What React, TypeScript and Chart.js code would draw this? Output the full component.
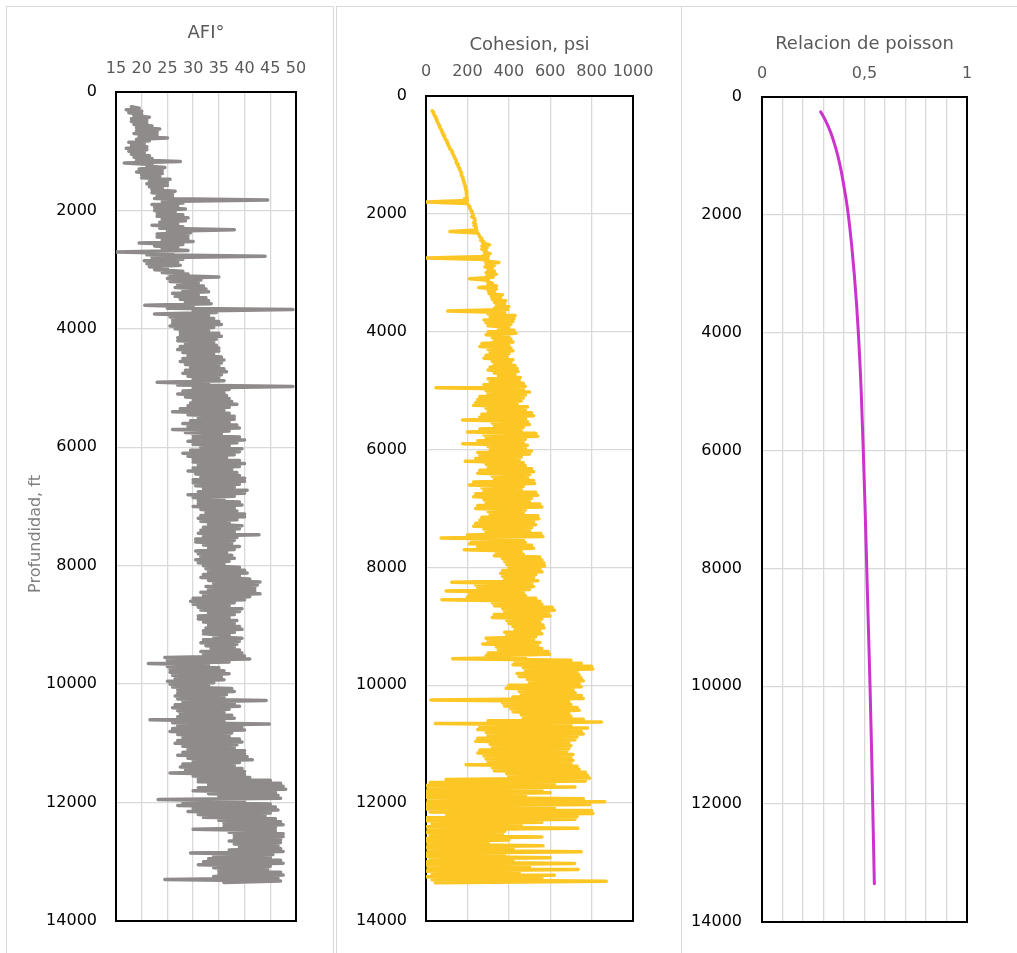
import React, { useEffect, useRef } from "react";
import { Chart, registerables } from "chart.js";

Chart.register(...registerables);

// ---------- data (depth in ft, one reading every 25 ft from 250 ft) ----------
const LOG_DEPTH_START = 250;
const LOG_DEPTH_STEP = 25;

// Friction angle AFI, degrees
const AFI = [
  18, 19.5, 17, 20, 17.5, 20, 18.5, 21.5, 18, 21, 18, 21, 18.5, 22, 19, 23.5, 19, 23, 18.5, 23, 19.5, 25, 19, 21.5, 17.5, 20.5, 18, 21, 17, 21, 17.5, 20.5, 18, 21.5, 18.5, 22, 19, 27.5, 16.6, 22,
  21, 24.5, 19.5, 24, 19, 24, 20, 23.5, 20, 25.5, 21.5, 25, 21, 25, 21.5, 24, 22, 26.5, 22, 26, 23, 26, 22.5, 44.5, 24, 28, 22, 27, 22.5, 28.5, 22.5, 26.5, 23, 28, 23, 29, 24, 28.5, 23.5, 27,
  22, 28, 23.5, 38, 25, 29.5, 23, 29, 23, 29, 24, 30, 19.5, 28, 22.5, 27, 24, 29, 15.2, 26, 21, 44, 22, 28, 20.5, 27, 21, 27.5, 21.5, 25, 22.5, 28, 24, 29, 25.5, 35, 25, 31.5, 25.5, 31,
  27, 32, 26.5, 32.5, 28, 33, 26, 31, 26.5, 32.5, 27.5, 33, 28.5, 33.5, 20.6, 30, 25, 49.4, 30, 34.5, 22.5, 33, 25.5, 34, 26, 35, 26, 35.5, 25.5, 34, 26.5, 33, 27.5, 35, 27.5, 35.5, 27, 34.5, 27, 34,
  28.5, 34.5, 27.5, 35, 27, 35, 28, 34, 29, 35.5, 28, 36, 27.5, 35.5, 28.5, 35, 29.5, 36, 28.5, 36.5, 28, 35.5, 29, 35, 30, 36, 23, 33, 27, 49.4, 30, 37, 28, 36, 27, 36.5, 28.5, 37, 30, 37.5,
  29.5, 38.5, 29, 37, 27.5, 36, 26, 37, 29, 38, 31, 38, 29.5, 37, 28, 38.5, 29, 39, 26, 37, 28.5, 35.5, 30, 39, 30, 40, 29, 38.5, 30, 37, 31.5, 39.5, 29.5, 39, 28, 38, 29, 36.5, 30, 39,
  30, 40, 31, 39, 30, 37.5, 29, 38.5, 30.5, 39, 31.5, 40, 30, 40, 30, 39, 30.5, 38, 32, 40.5, 31, 40, 29, 38, 30, 36, 31, 39, 31, 39.5, 30, 38, 31.5, 38.5, 32.5, 40, 31.5, 40, 31, 38.5,
  31.5, 37, 33, 39.5, 32, 39, 31.5, 38, 31, 42.8, 32, 38.5, 30.5, 38, 30.5, 37.5, 32, 39, 33, 38, 30.5, 36.5, 31, 37.5, 31.5, 38, 30.5, 37, 31, 36, 32, 39, 32.5, 40, 33, 40.5, 32, 39, 31.5, 41,
  33, 43, 34, 42.5, 32.5, 42, 33, 42, 31.5, 43, 32, 41, 30, 40, 29.5, 38, 30, 37, 31, 39.5, 31.5, 39, 33, 38, 31, 37, 31, 38.5, 32, 38, 33, 39, 32.5, 39.5, 32, 38, 32, 37, 34, 39.5,
  32, 39, 31.5, 38.5, 32.5, 38, 33.5, 39, 31.5, 39.5, 32, 40, 24.5, 41, 25, 37, 21.3, 33, 25, 35, 25.5, 36, 25.5, 37, 26, 35.5, 26.5, 36, 25, 34, 25.5, 33, 26, 37.5, 27, 38, 27, 36.5, 26.5, 36,
  27, 44.2, 28, 38, 26.5, 39, 26, 37, 27, 36, 27.5, 37.5, 27, 38, 21.6, 36, 26, 44.8, 27, 39.5, 26, 40, 25.5, 37.5, 27, 37, 28, 39, 27, 39.5, 26.5, 38.5, 28, 38, 29, 40, 28, 40, 27, 40.5,
  29, 41.5, 30, 39, 28, 38, 27.5, 39.5, 28.5, 40, 25.5, 40, 30, 41, 31, 45, 31, 47, 33, 47.5, 31, 48, 30, 46, 33, 46.5, 35, 47, 23.2, 40, 28, 45, 27, 46, 30, 46.5, 29, 45, 31, 44,
  32, 46, 35, 47, 36, 47.5, 36, 46, 30, 46, 37, 47.5, 38, 47.5, 38, 47, 37, 47, 38, 46.5, 39, 47, 37, 47.5, 29.5, 45.5, 34, 45, 33, 47, 32, 47.5, 31, 45, 34, 44.5, 35, 47, 35, 47.5,
  34, 46.5, 24.5, 47, 36,
];

// Cohesion, psi
const COHESION = [
  30, 34, 37, 40, 44, 48, 50, 53, 57, 61, 63, 66, 70, 74, 76, 79, 82, 87, 90, 92, 97, 101, 103, 106, 110, 114, 116, 124, 126, 128, 132, 136, 138, 143, 145, 146, 150, 154, 156, 160,
  163, 167, 170, 171, 172, 176, 178, 180, 182, 184, 186, 189, 190, 192, 194, 195, 196, 197, 198, 199, 185, 200, 0, 200, 205, 208, 212, 215, 218, 222, 226, 228, 220, 232, 235, 237, 230, 240, 232, 243,
  240, 245, 116, 250, 255, 258, 262, 270, 265, 280, 275, 306, 270, 295, 270, 290, 282, 310, 280, 300, 0, 300, 285, 352, 290, 330, 285, 320, 300, 330, 290, 339, 295, 325, 210, 300, 295, 320, 300, 340,
  255, 340, 300, 330, 305, 370, 315, 360, 320, 385, 330, 380, 340, 400, 330, 395, 105, 380, 300, 430, 310, 425, 280, 420, 290, 410, 300, 400, 350, 425, 300, 435, 290, 400, 320, 410, 330, 420, 270, 400,
  260, 410, 300, 420, 310, 400, 290, 390, 280, 420, 320, 410, 330, 430, 310, 440, 300, 445, 330, 430, 350, 455, 300, 450, 310, 470, 280, 480, 48, 470, 290, 500, 300, 480, 260, 470, 250, 460, 240, 440,
  230, 490, 290, 480, 300, 510, 270, 520, 260, 480, 177, 490, 320, 500, 330, 470, 260, 460, 200, 530, 280, 540, 290, 480, 250, 470, 177, 490, 300, 480, 310, 510, 250, 500, 260, 460, 240, 450, 190, 470,
  290, 480, 300, 510, 260, 520, 250, 500, 320, 490, 330, 520, 230, 525, 210, 470, 270, 460, 280, 530, 240, 540, 230, 510, 280, 500, 290, 550, 250, 560, 240, 480, 300, 470, 310, 540, 270, 545, 260, 520,
  240, 530, 230, 510, 280, 500, 290, 555, 200, 565, 73, 470, 220, 480, 210, 510, 250, 520, 185, 460, 340, 470, 330, 550, 370, 560, 380, 570, 390, 573, 400, 550, 370, 560, 360, 530, 370, 520, 380, 540,
  124, 510, 240, 520, 250, 500, 97, 470, 210, 480, 200, 530, 77, 550, 320, 560, 330, 610, 370, 620, 380, 590, 330, 600, 320, 560, 390, 550, 400, 565, 420, 570, 430, 550, 380, 560, 390, 530, 290, 520,
  300, 550, 274, 540, 340, 560, 350, 590, 300, 597, 290, 480, 129, 700, 430, 750, 420, 800, 470, 806, 480, 730, 440, 740, 450, 750, 490, 760, 500, 740, 400, 750, 387, 710, 450, 720, 460, 750, 420, 760,
  24, 690, 370, 700, 380, 730, 410, 740, 420, 690, 460, 700, 470, 760, 300, 847, 45, 700, 260, 780, 250, 750, 290, 760, 300, 730, 250, 720, 240, 690, 310, 700, 320, 690, 260, 680, 250, 710, 280, 700,
  290, 710, 300, 700, 194, 730, 320, 740, 330, 770, 390, 780, 400, 790, 97, 770, 20, 620, 0, 720, 10, 560, 0, 600, 0, 480, 0, 760, 10, 863, 0, 790, 0, 620, 0, 800, 20, 806, 100, 730,
  0, 720, 0, 560, 30, 460, 0, 734, 10, 380, 0, 370, 20, 560, 0, 400, 0, 300, 10, 565, 0, 420, 10, 750, 0, 380, 0, 600, 20, 420, 0, 718, 0, 500, 10, 735, 0, 450, 30, 620,
  0, 560, 30, 871, 45,
];

// Poisson ratio (smooth curve)
const POISSON_DEPTHS = [250, 400, 600, 800, 1000, 1250, 1500, 1750, 2000, 2500, 3000, 3500, 4000, 5000, 6000, 7000, 8000, 9000, 10000, 11000, 12000, 13350];
const POISSON = [0.286, 0.31, 0.335, 0.354, 0.37, 0.386, 0.399, 0.411, 0.421, 0.437, 0.45, 0.461, 0.47, 0.484, 0.494, 0.503, 0.511, 0.519, 0.527, 0.534, 0.54, 0.548];

const DEPTH_TICKS = [0, 2000, 4000, 6000, 8000, 10000, 12000, 14000];
const AFI_TICKS = [15, 20, 25, 30, 35, 40, 45, 50];
const COHESION_TICKS = [0, 200, 400, 600, 800, 1000];
const POISSON_LABELED = [0, 0.5, 1];
const POISSON_GRID_STEP = 0.1;

const TITLES = ["AFI°", "Cohesion, psi", "Relacion de poisson"];
const Y_TITLE = "Profundidad, ft";

// ---------- styling / layout ----------
const FONT = "'DejaVu Sans', 'Liberation Sans', sans-serif";
const GRID = "#d9d9d9";

type Panel = {
  values: number[];
  depths: number[];
  color: string;
  width: number;
  smooth: boolean;
  title: string;
  xMin: number;
  xMax: number;
  xStep: number;
  xLabel: (v: number) => string;
  box: { left: number; width: number };
  canvas: { x: number; y: number; w: number; h: number };
  plot: { l: number; t: number; r: number; b: number };
  titleCenter: number;
  tickCenter: number;
  yTickRight: number;
  yTitle?: { x: number; y: number };
};

const logDepths = (arr: number[]) => arr.map((_, i) => LOG_DEPTH_START + i * LOG_DEPTH_STEP);
const near = (a: number, b: number) => Math.abs(a - b) < 1e-6;

const PANELS: Panel[] = [
  {
    values: AFI,
    depths: logDepths(AFI),
    color: "#8f8b8b",
    width: 3.5,
    smooth: false,
    title: TITLES[0],
    xMin: AFI_TICKS[0],
    xMax: AFI_TICKS[AFI_TICKS.length - 1],
    xStep: AFI_TICKS[1] - AFI_TICKS[0],
    xLabel: (v) => String(v),
    box: { left: 6, width: 328 },
    canvas: { x: 7, y: 7, w: 326, h: 945 },
    plot: { l: 116, t: 92, r: 296, b: 921 },
    titleCenter: 33.8,
    tickCenter: 68.7,
    yTickRight: 97,
    yTitle: { x: 35.5, y: 534 },
  },
  {
    values: COHESION,
    depths: logDepths(COHESION),
    color: "#fcc624",
    width: 3.5,
    smooth: false,
    title: TITLES[1],
    xMin: COHESION_TICKS[0],
    xMax: COHESION_TICKS[COHESION_TICKS.length - 1],
    xStep: COHESION_TICKS[1] - COHESION_TICKS[0],
    xLabel: (v) => String(v),
    box: { left: 336, width: 346 },
    canvas: { x: 337, y: 7, w: 344, h: 945 },
    plot: { l: 426, t: 96, r: 633, b: 921 },
    titleCenter: 45.5,
    tickCenter: 71.8,
    yTickRight: 407,
  },
  {
    values: POISSON,
    depths: POISSON_DEPTHS,
    color: "#cc33cc",
    width: 3,
    smooth: true,
    title: TITLES[2],
    xMin: POISSON_LABELED[0],
    xMax: POISSON_LABELED[POISSON_LABELED.length - 1],
    xStep: POISSON_GRID_STEP,
    xLabel: (v) => {
      const hit = POISSON_LABELED.find((p) => near(p, v));
      return hit === undefined ? "" : String(hit).replace(".", ",");
    },
    box: { left: 681, width: 400 },
    canvas: { x: 682, y: 7, w: 335, h: 945 },
    plot: { l: 762, t: 97, r: 967, b: 922 },
    titleCenter: 44.7,
    tickCenter: 73.8,
    yTickRight: 742,
  },
];

function LogChart({ p }: { p: Panel }) {
  const ref = useRef<HTMLCanvasElement | null>(null);

  useEffect(() => {
    if (!ref.current) return;
    const c = p.canvas;
    const plotL = p.plot.l - c.x;
    const plotT = p.plot.t - c.y;
    const plotR = p.plot.r - c.x;
    const plotB = p.plot.b - c.y;
    const tickLH = 16 * 1.2;
    const titleLH = 18 * 1.2;

    const frame = {
      id: "frame",
      beforeDatasetsDraw(chart: any) {
        const { ctx, chartArea: a } = chart;
        ctx.save();
        ctx.strokeStyle = "#000";
        ctx.lineWidth = 2;
        ctx.strokeRect(a.left, a.top, a.right - a.left, a.bottom - a.top);
        ctx.restore();
      },
    };

    const yTitle = {
      id: "ytitle",
      afterDraw(chart: any) {
        if (!p.yTitle) return;
        const ctx = chart.ctx;
        ctx.save();
        ctx.translate(p.yTitle.x - c.x, p.yTitle.y - c.y);
        ctx.rotate(-Math.PI / 2);
        ctx.fillStyle = "#7f7f7f";
        ctx.font = `16px ${FONT}`;
        ctx.textAlign = "center";
        ctx.textBaseline = "middle";
        ctx.fillText(Y_TITLE, 0, 0);
        ctx.restore();
      },
    };

    const chart = new Chart(ref.current, {
      type: "scatter",
      data: {
        datasets: [
          {
            data: p.values.map((v, i) => ({ x: v, y: p.depths[i] })),
            showLine: true,
            borderColor: p.color,
            backgroundColor: p.color,
            borderWidth: p.width,
            borderJoinStyle: "round",
            borderCapStyle: "round",
            pointRadius: 0,
            pointHoverRadius: 0,
            cubicInterpolationMode: p.smooth ? "monotone" : "default",
            tension: 0,
          } as any,
        ],
      },
      options: {
        animation: false,
        responsive: false,
        maintainAspectRatio: false,
        layout: {
          padding: { left: 0, top: 0, right: c.w - plotR, bottom: c.h - plotB },
        },
        plugins: { legend: { display: false }, tooltip: { enabled: false } },
        events: [],
        scales: {
          x: {
            type: "linear",
            position: "top",
            min: p.xMin,
            max: p.xMax,
            afterFit: (s: any) => {
              s.height = plotT;
            },
            ticks: {
              stepSize: p.xStep,
              autoSkip: false,
              maxRotation: 0,
              minRotation: 0,
              padding: p.plot.t - p.tickCenter - tickLH / 2,
              color: "#595959",
              font: { family: FONT, size: 16 },
              callback: (v: any) => p.xLabel(Number(v)),
            },
            grid: { color: GRID, lineWidth: 1.3, drawTicks: false },
            border: { display: false },
            title: {
              display: true,
              text: p.title,
              color: "#595959",
              font: { family: FONT, size: 18 },
              padding: { top: p.titleCenter - c.y - titleLH / 2, bottom: 0 },
            },
          },
          y: {
            type: "linear",
            reverse: true,
            min: DEPTH_TICKS[0],
            max: DEPTH_TICKS[DEPTH_TICKS.length - 1],
            afterFit: (s: any) => {
              s.width = plotL;
            },
            ticks: {
              stepSize: DEPTH_TICKS[1] - DEPTH_TICKS[0],
              autoSkip: false,
              padding: p.plot.l - p.yTickRight,
              color: "#000",
              font: { family: FONT, size: 16 },
              callback: (v: any) => String(v),
            },
            grid: { color: GRID, lineWidth: 1.3, drawTicks: false },
            border: { display: false },
          },
        },
      } as any,
      plugins: [frame, yTitle],
    });
    return () => chart.destroy();
  }, [p]);

  return (
    <canvas
      ref={ref}
      width={p.canvas.w}
      height={p.canvas.h}
      style={{
        position: "absolute",
        left: p.canvas.x,
        top: p.canvas.y,
        width: p.canvas.w,
        height: p.canvas.h,
      }}
    />
  );
}

export default function App() {
  return (
    <div
      style={{
        position: "absolute",
        left: 0,
        top: 0,
        width: 1017,
        height: 953,
        overflow: "hidden",
        background: "#fff",
      }}
    >
      {PANELS.map((p, i) => (
        <div
          key={"box" + i}
          style={{
            position: "absolute",
            left: p.box.left,
            top: 6,
            width: p.box.width,
            height: 1000,
            border: "1px solid #d9d9d9",
            boxSizing: "border-box",
          }}
        />
      ))}
      {PANELS.map((p, i) => (
        <LogChart key={"chart" + i} p={p} />
      ))}
    </div>
  );
}
